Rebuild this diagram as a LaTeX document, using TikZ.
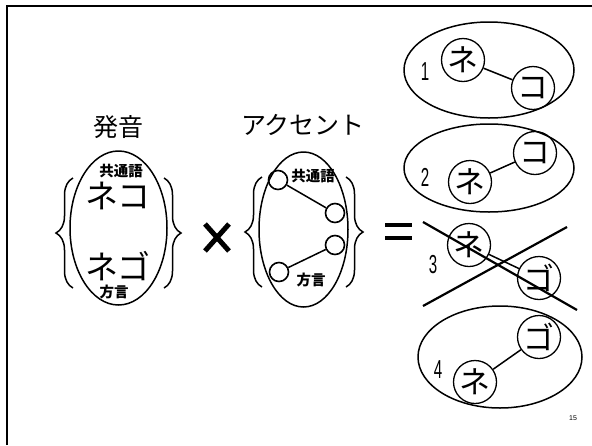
\documentclass[tikz,border=0pt]{standalone}
\usepackage{fontspec}
\setmainfont{Liberation Sans}
\newfontfamily\jp{Noto Sans CJK JP}
\usetikzlibrary{decorations.pathreplacing}
\begin{document}
\begin{tikzpicture}[x=1pt,y=-1pt,
  ln/.style={line width=1.5pt},
  mora/.style={circle, draw, line width=1.3pt, minimum size=43pt, inner sep=0pt, font=\jp\fontsize{31}{31}\selectfont},
  dot/.style={circle, draw, line width=1.6pt, minimum size=19pt, inner sep=0pt},
  num/.style={font=\fontsize{26}{26}\selectfont, xscale=0.58, inner sep=0pt},
  head/.style={font=\jp\fontsize{25}{25}\selectfont, inner sep=0pt},
  big/.style={font=\jp\fontsize{33}{33}\selectfont, inner sep=0pt},
  small/.style={font=\jp\bfseries\fontsize{14.5}{14.5}\selectfont, inner sep=0pt},
  brc/.style={line width=1.5pt, decorate, decoration={brace, amplitude=17pt}},
  thick op/.style={line width=5pt}]
\useasboundingbox (0,0) rectangle (592,445);
\fill[white] (0,0) rectangle (592,445);
% frame
\draw[line width=2.5pt] (7,445) -- (7,6) -- (592,6);

% pronunciation set
\node[head] (hatsuon) at (118,127) {発音};
\draw[ln] (118.5,228) ellipse [x radius=48.5, y radius=77];
\node[small] (kyo1) at (121,171) {共通語};
\node[big] (neko) at (118,196) {ネコ};
\node[big] (nego) at (118,266) {ネゴ};
\node[small] (hogen1) at (114,292) {方言};
\draw[brc] (73,288) -- (73,178);
\draw[brc] (164,178) -- (164,288);

% times
\draw[thick op] (205,224) -- (229,251);
\draw[thick op] (205,251) -- (229,224);

% accent set
\node[head] (akusento) at (303,125) {アクセント};
\draw[ln] (303.5,229.5) ellipse [x radius=44.5, y radius=77.5];
\node[dot] (a1) at (278,180) {};
\node[dot] (a2) at (335,213) {};
\node[dot] (a3) at (335,245) {};
\node[dot] (a4) at (279,272) {};
\draw[ln] (a1) -- (a2);
\draw[ln] (a4) -- (a3);
\node[small] (kyo2) at (313,176) {共通語};
\node[small] (hogen2) at (311,280) {方言};
\draw[brc] (262,287) -- (262,177);
\draw[brc] (346,177) -- (346,287);

% equals
\draw[line width=4.5pt] (385,225) -- (412,225);
\draw[line width=4.5pt] (385,238) -- (412,238);

% option 1
\draw[ln] (489,70) ellipse [x radius=85, y radius=48];
\node[num] (n1) at (425,72) {1};
\node[mora] (k1ne) at (463,60) {ネ};
\node[mora] (k1ko) at (533,88) {コ};
\draw[ln] (k1ne) -- (k1ko);

% option 2
\draw[ln] (489,168) ellipse [x radius=85, y radius=44];
\node[num] (n2) at (425,177) {2};
\node[mora] (k2ne) at (470,182) {ネ};
\node[mora] (k2ko) at (535,153) {コ};
\draw[ln] (k2ne) -- (k2ko);

% option 3 (crossed out)
\node[num] (n3) at (433,265) {3};
\node[mora] (k3ne) at (469,245) {ネ};
\node[mora] (k3go) at (539,278) {ゴ};
\draw[ln] (k3ne) -- (k3go);
\coordinate (x1a) at (423,222);
\coordinate (x1b) at (577,310);
\coordinate (x2a) at (423,306);
\coordinate (x2b) at (567,227);
\draw[line width=2.2pt] (x1a) -- (x1b);
\draw[line width=2.2pt] (x2a) -- (x2b);

% option 4
\draw[ln] (500,357) ellipse [x radius=82, y radius=51];
\node[num] (n4) at (438,370) {4};
\node[mora] (k4go) at (539,337) {ゴ};
\node[mora] (k4ne) at (475,382) {ネ};
\draw[ln] (k4ne) -- (k4go);

% page number
\node[font=\fontsize{7}{7}\selectfont, inner sep=0pt] (page) at (573,418) {15};
\end{tikzpicture}
\end{document}
